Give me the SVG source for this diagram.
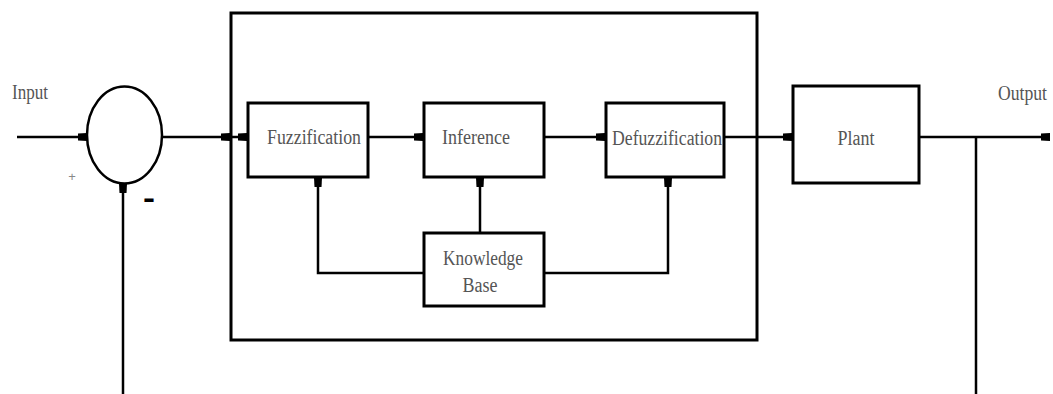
<svg xmlns="http://www.w3.org/2000/svg" width="1053" height="394" viewBox="0 0 1053 394">
<style>
.box{fill:#fff;stroke:#000;stroke-width:3}
.ln{fill:none;stroke:#000;stroke-width:2.5}
.lbl{font-family:"Liberation Serif","Times New Roman",serif;font-size:20px;fill:#555}
</style>
<defs>
<marker id="ah" markerUnits="userSpaceOnUse" markerWidth="10" markerHeight="10" viewBox="0 -5 10 10" refX="9" refY="0" orient="auto">
<polygon points="0,-3.5 9,-4 9,4 0,3.5" fill="#000"/>
</marker>
</defs>
<rect width="1053" height="394" fill="#fff"/>
<g id="controller">
<rect class="box" x="231" y="13" width="526" height="327"/>
</g>
<g id="summer">
<ellipse cx="124.5" cy="135" rx="37.5" ry="48.5" fill="none" stroke="#000" stroke-width="2.5"/>
<text x="72" y="181" font-family="Liberation Sans,Arial,sans-serif" font-size="13" fill="#888" text-anchor="middle">+</text>
<text x="149" y="208" font-family="Liberation Sans,Arial,sans-serif" font-size="30" font-weight="bold" text-anchor="middle" textLength="12" lengthAdjust="spacingAndGlyphs">-</text>
</g>
<g id="fuzzification">
<rect class="box" x="248" y="103" width="120" height="74"/>
<text class="lbl" x="314" y="144" text-anchor="middle" textLength="94" lengthAdjust="spacingAndGlyphs">Fuzzification</text>
</g>
<g id="inference">
<rect class="box" x="424" y="103" width="120" height="74"/>
<text class="lbl" x="476" y="144" text-anchor="middle" textLength="68" lengthAdjust="spacingAndGlyphs">Inference</text>
</g>
<g id="defuzzification">
<rect class="box" x="606" y="103" width="118" height="74"/>
<text class="lbl" x="667" y="145" text-anchor="middle" textLength="110" lengthAdjust="spacingAndGlyphs">Defuzzification</text>
</g>
<g id="knowledge-base">
<rect class="box" x="424" y="233" width="120" height="73"/>
<text class="lbl" x="483" y="265" text-anchor="middle" textLength="80" lengthAdjust="spacingAndGlyphs">Knowledge</text>
<text class="lbl" x="480" y="292" text-anchor="middle" textLength="35" lengthAdjust="spacingAndGlyphs">Base</text>
</g>
<g id="plant">
<rect class="box" x="793" y="86" width="126" height="97"/>
<text class="lbl" x="856" y="145" text-anchor="middle" textLength="37" lengthAdjust="spacingAndGlyphs">Plant</text>
</g>
<g id="labels">
<text class="lbl" x="12" y="99" textLength="36" lengthAdjust="spacingAndGlyphs">Input</text>
<text class="lbl" x="998" y="100" textLength="49" lengthAdjust="spacingAndGlyphs">Output</text>
</g>
<g id="connectors">
<path class="ln" d="M17,137 H87" marker-end="url(#ah)"/>
<path class="ln" d="M162,137 H230" marker-end="url(#ah)"/>
<path class="ln" d="M232,137 H247" marker-end="url(#ah)"/>
<path class="ln" d="M368,137 H423" marker-end="url(#ah)"/>
<path class="ln" d="M544,137 H605" marker-end="url(#ah)"/>
<path class="ln" d="M724,137 H792" marker-end="url(#ah)"/>
<path class="ln" d="M919,137 H1050" marker-end="url(#ah)"/>
<path class="ln" d="M976,137 V394"/>
<path class="ln" d="M123,394 V184" marker-end="url(#ah)"/>
<path class="ln" d="M424,273 H318 V178" marker-end="url(#ah)"/>
<path class="ln" d="M480,233 V178" marker-end="url(#ah)"/>
<path class="ln" d="M544,273 H668 V178" marker-end="url(#ah)"/>
</g>
</svg>
